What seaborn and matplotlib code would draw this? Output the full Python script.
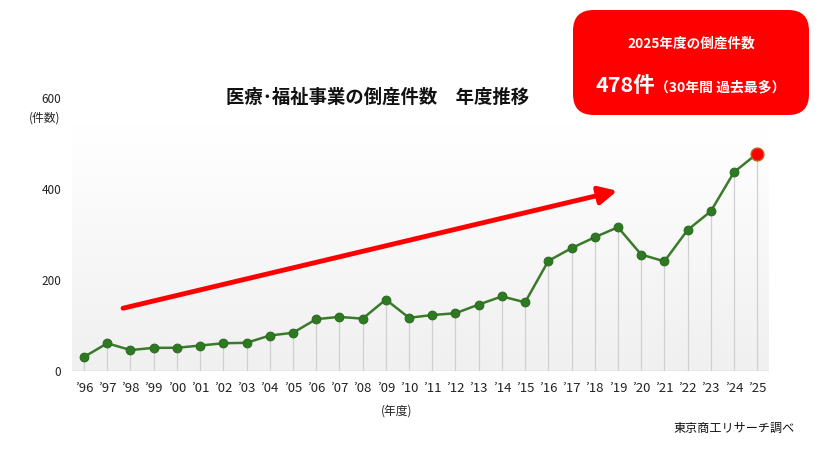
import numpy as np
import pandas as pd
import matplotlib
matplotlib.use("Agg")
import matplotlib.pyplot as plt
import seaborn as sns
from matplotlib.patches import FancyBboxPatch
from matplotlib.colors import LinearSegmentedColormap

years = ["’96", "’97", "’98", "’99", "’00", "’01", "’02", "’03", "’04", "’05",
         "’06", "’07", "’08", "’09", "’10", "’11", "’12", "’13", "’14", "’15",
         "’16", "’17", "’18", "’19", "’20", "’21", "’22", "’23", "’24", "’25"]
counts = [31, 61, 46, 51, 51, 56, 61, 62, 78, 84,
          114, 119, 115, 157, 117, 123, 127, 146, 164, 151,
          242, 270, 294, 316, 256, 241, 310, 351, 437, 478]
y_ticks = [0, 200, 400, 600]
arrow_start = (1.68, 138)
arrow_end = (22.97, 396)

sns.set_theme(style="white")
plt.rcParams['font.family'] = ['Noto Sans CJK JP', 'DejaVu Sans']

df = pd.DataFrame({"x": np.arange(len(years)), "year": years, "count": counts})

fig = plt.figure(figsize=(8.3, 4.54), dpi=100)
ax = fig.add_axes([0.0873, 0.1828, 0.839, 0.6013])

# gradient background
grad = np.linspace(0, 1, 256).reshape(-1, 1)
cmap = LinearSegmentedColormap.from_list("bg", ["#ffffff", "#f0f0f0"])
ax.imshow(grad, extent=[-0.5, len(years) - 0.5, 0, 540], aspect="auto",
          cmap=cmap, origin="upper", zorder=0)

ax.vlines(df["x"], 0, df["count"], color="#d0d0d0", lw=0.9, zorder=1)
ax.axhline(0, color="#cccccc", lw=1.0, zorder=1)

sns.lineplot(data=df, x="x", y="count", ax=ax, color="#3a7a2a", lw=1.8,
             marker="o", markersize=6.3, markeredgecolor="#2a6a1f",
             markerfacecolor="#2e7a22", zorder=3)
last = df.iloc[[-1]]
ax.scatter(last["x"], last["count"], s=85, color="#ff0000",
           edgecolor="#c06020", linewidth=1.0, zorder=4)

ax.annotate("", xy=arrow_end, xytext=arrow_start,
            arrowprops=dict(arrowstyle="-|>,head_length=0.9,head_width=0.45",
                            color="#ff0000", lw=3.5, shrinkA=0, shrinkB=0),
            zorder=5)

ax.set_xlim(-0.5, len(years) - 0.5)
ax.set_ylim(0, 600)
ax.set_xticks(df["x"])
ax.set_xticklabels(years, fontsize=9.5, color="#222222")
ax.set_yticks(y_ticks)
ax.set_yticklabels([str(v) for v in y_ticks], fontsize=8.5, color="#222222")
ax.tick_params(axis="x", length=0, pad=8)
ax.tick_params(axis="y", length=0, pad=8)
for s in ax.spines.values():
    s.set_visible(False)
ax.set_xlabel("")
ax.set_ylabel("")

fig.text(0.0540, 1 - 118 / 454, "(件数)", fontsize=8.5, ha="center", va="center", color="#222222")
fig.text(397 / 830, 1 - 411 / 454, "(年度)", fontsize=8.5, ha="center", va="center", color="#222222")
fig.text(795 / 830, 1 - 428 / 454, "東京商工リサーチ調べ", fontsize=8.7, ha="right", va="center", color="#111111")
fig.text(378 / 830, 1 - 97 / 454, "医療･福祉事業の倒産件数　年度推移", fontsize=13.2,
         fontweight="bold", ha="center", va="center", color="#111111")

# red box
box = FancyBboxPatch((573 / 830, 1 - 115 / 454), 236 / 830, 105 / 454,
                     boxstyle="round,pad=0,rounding_size=0.025",
                     transform=fig.transFigure, facecolor="#ff0000",
                     edgecolor="none", mutation_aspect=830 / 454)
fig.patches.append(box)
fig.text(691 / 830, 1 - 44 / 454, "2025年度の倒産件数", fontsize=9.8, color="white",
         ha="center", va="center", fontweight="bold")
fig.text(595 / 830, 1 - 86 / 454, "478件", fontsize=15.5, color="white",
         ha="left", va="center", fontweight="bold")
fig.text(655 / 830, 1 - 87 / 454, "（30年間 過去最多）", fontsize=10, color="white",
         ha="left", va="center", fontweight="bold")

fig.savefig("out.png", dpi=100, facecolor="white")
